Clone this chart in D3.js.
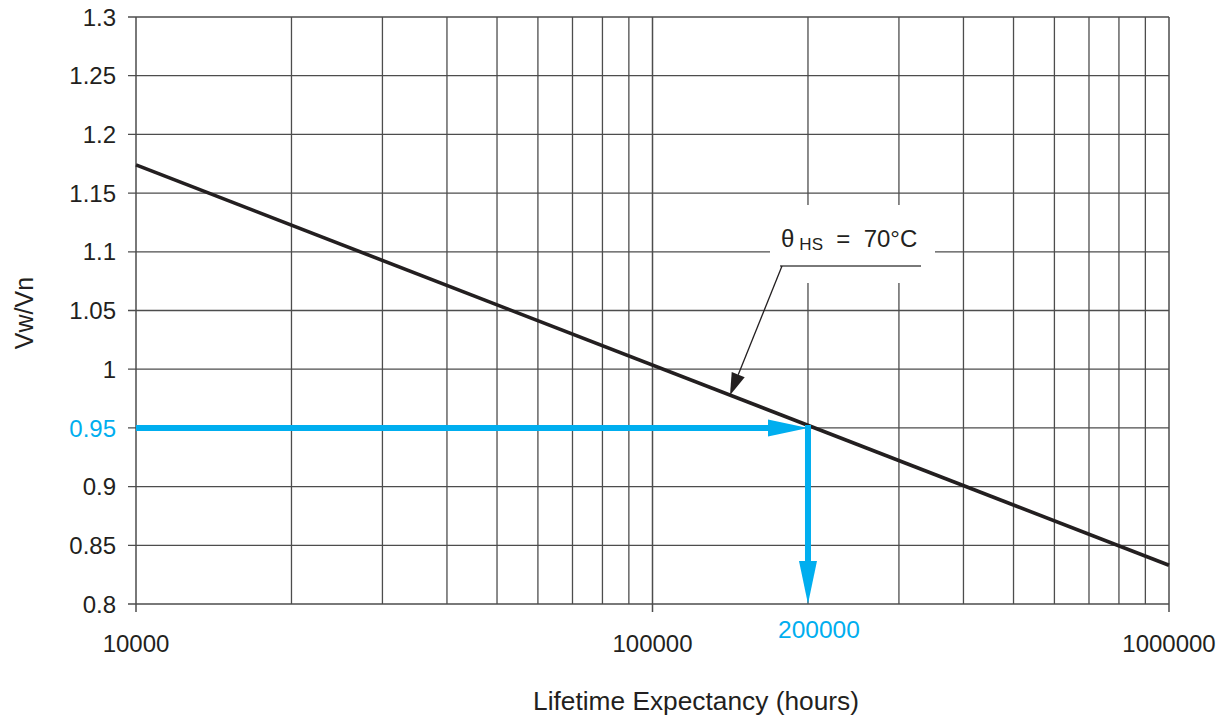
<!DOCTYPE html>
<html>
<head>
<meta charset="utf-8">
<script src="https://cdn.jsdelivr.net/npm/d3@7"></script>
<style>
  body { margin: 0; background: #fff; }
  text { font-family: "Liberation Sans", Arial, sans-serif; fill: #231f20; }
</style>
</head>
<body>
<div id="chart"></div>
<script>
// data
const yTicks = [0.8, 0.85, 0.9, 0.95, 1, 1.05, 1.1, 1.15, 1.2, 1.25, 1.3];
const xMajor = [10000, 100000, 1000000];
const xMinor = [20000, 30000, 40000, 50000, 60000, 70000, 80000, 90000,
                200000, 300000, 400000, 500000, 600000, 700000, 800000, 900000];
const curveHours = [10000, 1000000];
const curveRatio = [1.174, 0.833];
const markHours = 200000;
const markRatio = 0.95;

const margin = {top: 17, right: 59, bottom: 113, left: 136},
      width = 1228 - margin.left - margin.right,
      height = 717 - margin.top - margin.bottom;

const blue = "#00aeef", grid = "#4d4d4d";

const svg = d3.select("#chart").append("svg")
    .attr("width", 1228).attr("height", 717)
  .append("g")
    .attr("transform", `translate(${margin.left},${margin.top})`);

const x = d3.scaleLog().domain([10000, 1000000]).range([0, width]);
const y = d3.scaleLinear().domain([0.8, 1.3]).range([height, 0]);

// grid
svg.append("g").selectAll("line").data(yTicks).join("line")
    .attr("x1", -8).attr("x2", width)
    .attr("y1", d => y(d)).attr("y2", d => y(d))
    .attr("stroke", grid).attr("stroke-width", 1.3);

svg.append("g").selectAll("line").data(xMinor).join("line")
    .attr("x1", d => x(d)).attr("x2", d => x(d))
    .attr("y1", 0).attr("y2", height)
    .attr("stroke", grid).attr("stroke-width", 1.3);

svg.append("g").selectAll("line").data(xMajor).join("line")
    .attr("x1", d => x(d)).attr("x2", d => x(d))
    .attr("y1", 0).attr("y2", height + 8)
    .attr("stroke", grid).attr("stroke-width", 1.5);

// tick labels
svg.append("g").selectAll("text").data(yTicks).join("text")
    .attr("x", -20).attr("y", d => y(d)).attr("dy", "0.36em")
    .attr("text-anchor", "end").style("font-size", "24px")
    .style("fill", d => d === markRatio ? blue : null)
    .text(d => d);

svg.append("g").selectAll("text").data(xMajor).join("text")
    .attr("x", d => x(d)).attr("y", height + 48)
    .attr("text-anchor", "middle").style("font-size", "24px")
    .text(d => d);

svg.append("text")
    .attr("x", x(markHours) + 11).attr("y", height + 34)
    .attr("text-anchor", "middle").style("font-size", "24.5px")
    .style("fill", blue).text(markHours);

// axis titles
svg.append("text")
    .attr("x", 696 - margin.left).attr("y", 710 - margin.top)
    .attr("text-anchor", "middle").style("font-size", "26.3px")
    .text("Lifetime Expectancy (hours)");

svg.append("text")
    .attr("transform", `translate(${33 - margin.left},${313 - margin.top}) rotate(-90)`)
    .attr("text-anchor", "middle").style("font-size", "25px")
    .text("Vw/Vn");

// curve
const line = d3.line().x(d => x(d[0])).y(d => y(d[1]));
svg.append("path")
    .datum(curveHours.map((h, i) => [h, curveRatio[i]]))
    .attr("d", line)
    .attr("fill", "none").attr("stroke", "#231f20").attr("stroke-width", 3.6);

// blue arrows
const mx = x(markHours), my = y(markRatio);
svg.append("line")
    .attr("x1", 0).attr("x2", mx - 30).attr("y1", my).attr("y2", my)
    .attr("stroke", blue).attr("stroke-width", 6);
svg.append("path")
    .attr("d", `M${mx - 40},${my - 8.5}L${mx},${my}L${mx - 40},${my + 8.5}Z`)
    .attr("fill", blue);
svg.append("line")
    .attr("x1", mx).attr("x2", mx).attr("y1", my - 3).attr("y2", height - 30)
    .attr("stroke", blue).attr("stroke-width", 6);
svg.append("path")
    .attr("d", `M${mx - 9},${height - 43}L${mx},${height}L${mx + 9},${height - 43}Z`)
    .attr("fill", blue);

// label box with leader arrow
const bx0 = 770 - margin.left, bx1 = 935 - margin.left;
const by0 = 205 - margin.top, by1 = 283 - margin.top;
svg.append("rect")
    .attr("x", bx0).attr("y", by0).attr("width", bx1 - bx0).attr("height", by1 - by0)
    .attr("fill", "#fff");
svg.append("line")
    .attr("x1", 780 - margin.left).attr("x2", 921 - margin.left)
    .attr("y1", 266 - margin.top).attr("y2", 266 - margin.top)
    .attr("stroke", grid).attr("stroke-width", 1.3);

const lbl = svg.append("text")
    .attr("x", 781 - margin.left).attr("y", 247 - margin.top)
    .style("font-size", "24px");
lbl.append("tspan").text("θ");
lbl.append("tspan").attr("dx", 5).attr("dy", 3).style("font-size", "17px").text("HS");
lbl.append("tspan").attr("dy", -3).attr("xml:space", "preserve").text("  =  70°C");

// leader line to the curve
const tipX = 730 - margin.left;
const tipY = y(1.0 - 0.17 * Math.log10(x.invert(tipX) / 100000)) - 4;
const sx = 782 - margin.left, sy = 266 - margin.top;
const ang = Math.atan2(tipY - sy, tipX - sx);
const hl = 22, hw = 7;
const bxp = tipX - hl * Math.cos(ang), byp = tipY - hl * Math.sin(ang);
svg.append("line")
    .attr("x1", sx).attr("y1", sy).attr("x2", bxp).attr("y2", byp)
    .attr("stroke", "#231f20").attr("stroke-width", 1.3);
svg.append("path")
    .attr("d", `M${tipX},${tipY}L${bxp + hw * Math.sin(ang)},${byp - hw * Math.cos(ang)}L${bxp - hw * Math.sin(ang)},${byp + hw * Math.cos(ang)}Z`)
    .attr("fill", "#231f20");
</script>
</body>
</html>
